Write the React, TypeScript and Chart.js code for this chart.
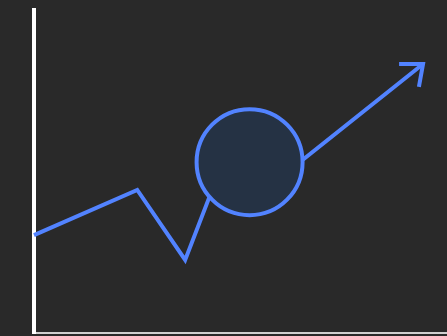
import React, { useEffect, useRef } from "react";
import { Chart, registerables } from "chart.js";

Chart.register(...registerables);

// Trend line (x, y in 0-100 chart units)
const trendX = [0, 25.0, 36.6, 45.0, 57.1, 94.2];
const trendY = [30.3, 44.3, 22.6, 50.5, 45.5, 83.3];
// Arrowhead
const arrowX = [88.4, 94.2, 93.2];
const arrowY = [83.3, 83.3, 76.2];
// Highlight circle
const circleX = [52.2];
const circleY = [52.9];

const LINE = "#5283ff";
const BG = "#292929";

export default function App() {
  const ref = useRef<HTMLCanvasElement | null>(null);
  useEffect(() => {
    document.body.style.margin = "0";
    document.body.style.background = BG;
    const toPts = (xs: number[], ys: number[]) => xs.map((x, i) => ({ x, y: ys[i] }));
    const chart = new Chart(ref.current!, {
      type: "scatter",
      data: {
        datasets: [
          {
            data: toPts(circleX, circleY),
            pointRadius: 53,
            pointHoverRadius: 53,
            pointBorderWidth: 4,
            pointBackgroundColor: "#253244",
            pointBorderColor: LINE,
            showLine: false,
            clip: false as any,
          },
          {
            data: toPts(trendX, trendY),
            showLine: true,
            borderColor: LINE,
            borderWidth: 4,
            pointRadius: 0,
            tension: 0,
            clip: false as any,
          },
          {
            data: toPts(arrowX, arrowY),
            showLine: true,
            borderColor: LINE,
            borderWidth: 4,
            pointRadius: 0,
            tension: 0,
            clip: false as any,
          },
        ],
      },
      options: {
        animation: false,
        responsive: true,
        maintainAspectRatio: false,
        events: [],
        layout: { autoPadding: false, padding: { left: 34, top: 10, right: 0, bottom: 3 } },
        plugins: { legend: { display: false }, tooltip: { enabled: false } },
        scales: {
          x: {
            type: "linear",
            min: 0,
            max: 100,
            ticks: { display: false },
            grid: { display: false, drawTicks: false },
            border: { display: true, color: "#cfcfcf", width: 2 },
          },
          y: {
            type: "linear",
            min: 0,
            max: 100,
            ticks: { display: false },
            grid: { display: false, drawTicks: false },
            border: { display: true, color: "#ffffff", width: 4 },
          },
        },
      },
    });
    return () => chart.destroy();
  }, []);
  return (
    <div style={{ width: 447, height: 336, background: BG }}>
      <canvas ref={ref} />
    </div>
  );
}
